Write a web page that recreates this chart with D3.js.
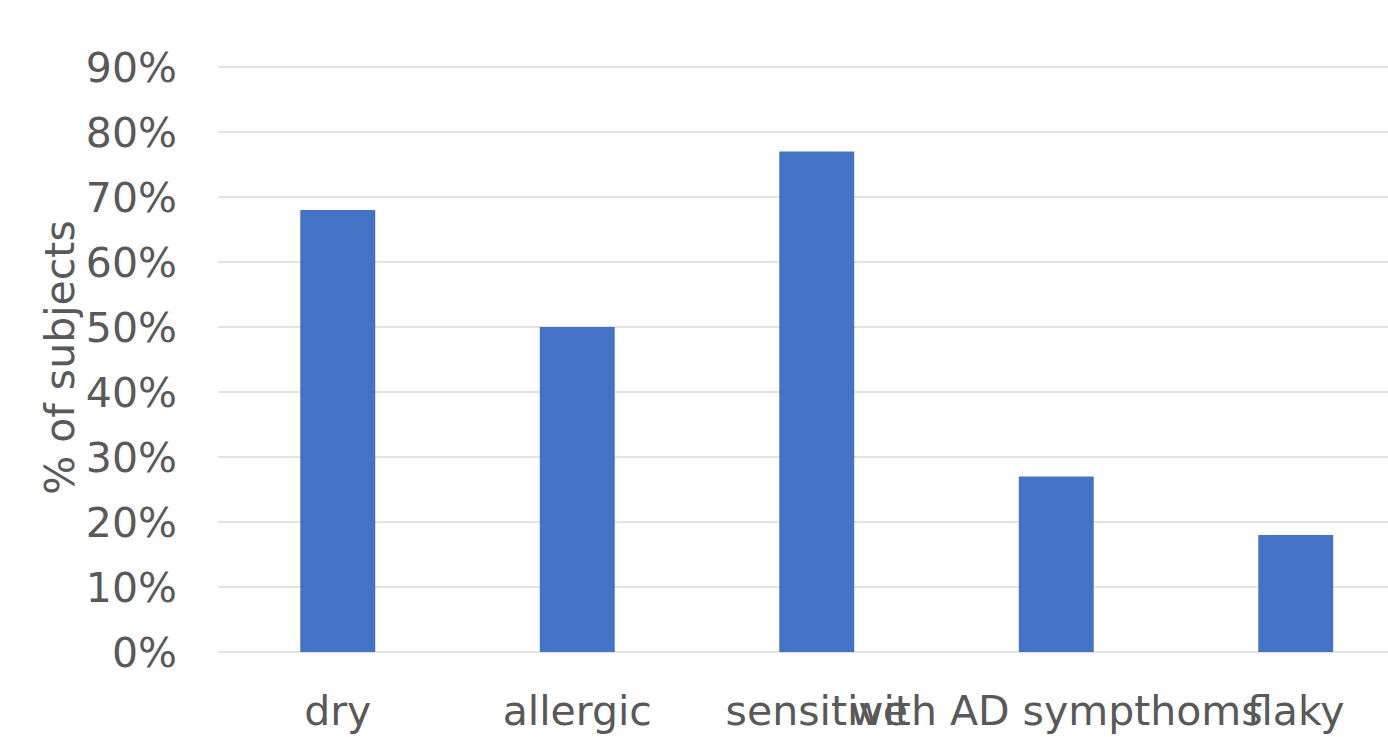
<!DOCTYPE html>
<html>
<head>
<meta charset="utf-8">
<script src="https://cdn.jsdelivr.net/npm/d3@7"></script>
<style>
  html, body { margin: 0; padding: 0; background: #ffffff; }
  svg { display: block; }
  text { font-family: "DejaVu Sans", sans-serif; fill: #595959; }
</style>
</head>
<body>
<svg id="chart" width="1388" height="737"></svg>
<script>
// Share of subjects reporting each skin type
const categories = ["dry", "allergic", "sensitive", "with AD sympthoms", "flaky"];
const values = [0.68, 0.50, 0.77, 0.27, 0.18];
const yTicks = [0, 0.1, 0.2, 0.3, 0.4, 0.5, 0.6, 0.7, 0.8, 0.9];
const yTitle = "% of subjects";

const W = 1388, H = 737;
const margin = { left: 218, top: 67, bottom: 85 };
const plotBottom = H - margin.bottom;
const step = 239.5;

const svg = d3.select("#chart");

const x = d3.scaleBand()
  .domain(categories)
  .range([margin.left, margin.left + step * categories.length])
  .paddingInner(0.687)
  .paddingOuter(0.3435);

const y = d3.scaleLinear()
  .domain([0, 0.9])
  .range([plotBottom, margin.top]);

// Horizontal gridlines
svg.append("g")
  .selectAll("line")
  .data(yTicks)
  .join("line")
  .attr("x1", margin.left)
  .attr("x2", W)
  .attr("y1", d => y(d))
  .attr("y2", d => y(d))
  .attr("stroke", "#d9d9d9")
  .attr("stroke-width", 1.5);

// Bars
svg.append("g")
  .selectAll("rect")
  .data(categories)
  .join("rect")
  .attr("x", d => x(d))
  .attr("width", x.bandwidth())
  .attr("y", (d, i) => y(values[i]))
  .attr("height", (d, i) => y(0) - y(values[i]))
  .attr("fill", "#4472c4");

// Y axis labels
const yAxis = d3.axisLeft(y)
  .tickValues(yTicks)
  .tickFormat(d3.format(".0%"))
  .tickSize(0)
  .tickPadding(0);

svg.append("g")
  .attr("transform", `translate(177,0)`)
  .call(yAxis)
  .call(g => g.select(".domain").remove())
  .call(g => g.selectAll("text")
    .attr("font-size", 41)
    .style("font-family", "DejaVu Sans, sans-serif")
    .attr("fill", "#595959")
    .attr("dy", "0.36em"));

// X axis labels
const xAxis = d3.axisBottom(x).tickSize(0).tickPadding(0);
svg.append("g")
  .attr("transform", `translate(0,${plotBottom})`)
  .call(xAxis)
  .call(g => g.select(".domain").remove())
  .call(g => g.selectAll("text")
    .attr("font-size", 41)
    .style("font-family", "DejaVu Sans, sans-serif")
    .attr("fill", "#595959")
    .attr("y", 73)
    .attr("dy", 0));

// Y axis title
svg.append("text")
  .attr("transform", `translate(74,${(margin.top + plotBottom) / 2 - 2}) rotate(-90)`)
  .attr("text-anchor", "middle")
  .attr("font-size", 41)
  .text(yTitle);
</script>
</body>
</html>
